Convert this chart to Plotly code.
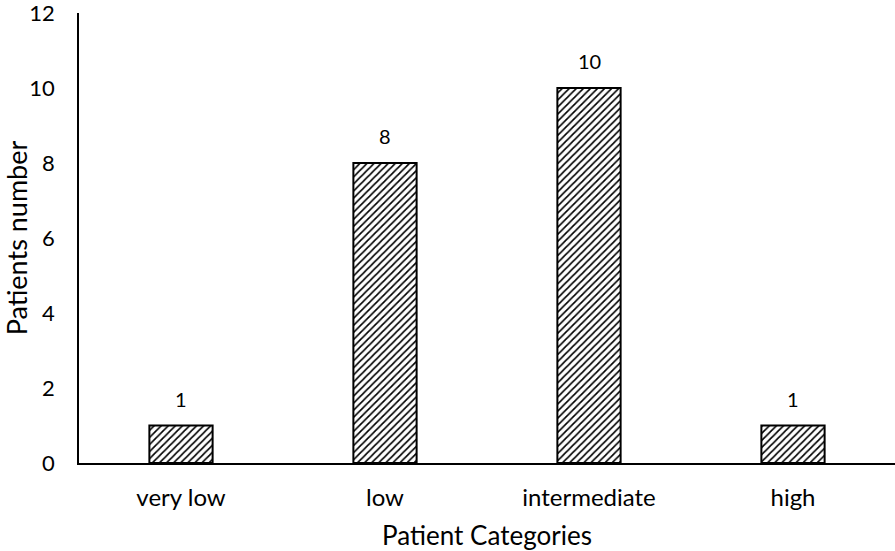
import plotly.graph_objects as go

categories = ["very low", "low", "intermediate", "high"]
patients = [1, 8, 10, 1]
y_ticks = [0, 2, 4, 6, 8, 10, 12]

fig = go.Figure(go.Bar(
    x=categories,
    y=patients,
    cliponaxis=False,
    marker=dict(
        color="white",
        line=dict(color="black", width=2),
        pattern=dict(shape="/", fgcolor="black", fgopacity=1, bgcolor="white", size=5, solidity=0.33),
    ),
    width=0.31,
))

for c, v in zip(categories, patients):
    fig.add_annotation(x=c, y=v, text=str(v), showarrow=False, yanchor="bottom",
                       yshift=13, font=dict(size=20, color="black"))

fig.update_layout(
    width=895, height=551,
    margin=dict(l=79, r=0, t=13, b=88),
    plot_bgcolor="white", paper_bgcolor="white",
    font=dict(family="Lato, Open Sans, sans-serif", color="black", size=22),
    showlegend=False,
)
fig.update_xaxes(
    automargin=False,
    showline=True, linecolor="black", linewidth=2,
    showgrid=False, ticks="", tickfont=dict(size=24), ticklabelstandoff=12,
    title=dict(text="Patient Categories", font=dict(size=26), standoff=18),
)
fig.update_yaxes(
    automargin=False,
    range=[0, 12], tickvals=y_ticks, ticklabeloverflow="allow",
    showline=True, linecolor="black", linewidth=1.5,
    showgrid=False, zeroline=False, ticks="", tickfont=dict(size=22), ticklabelstandoff=18,
    title=dict(text="Patients number", font=dict(size=27), standoff=22),
)

fig.write_html("out.html", config={"displayModeBar": False},
               post_script="document.body.style.margin='0';document.body.style.overflow='hidden';")
